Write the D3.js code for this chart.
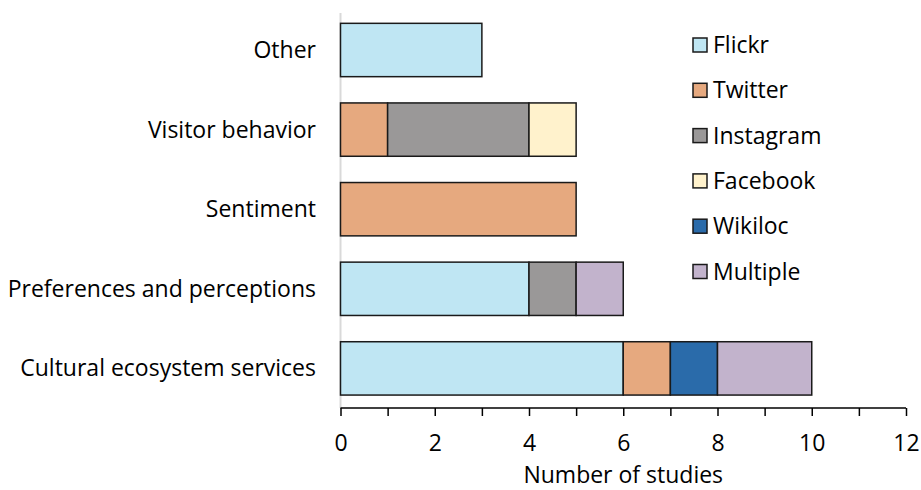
<!DOCTYPE html>
<html>
<head>
<meta charset="utf-8">
<script src="https://cdn.jsdelivr.net/npm/d3@7"></script>
<style>
body { margin: 0; background: #fff; }
text { font-family: "Open Sans", sans-serif; fill: #000; }
</style>
</head>
<body>
<div id="chart"></div>
<script>
// data
var categories = ["Other", "Visitor behavior", "Sentiment", "Preferences and perceptions", "Cultural ecosystem services"];
var sources = ["Flickr", "Twitter", "Instagram", "Facebook", "Wikiloc", "Multiple"];
var colors = ["#bfe6f3", "#e6a97f", "#9a9898", "#fff2cc", "#2a6baa", "#c2b3cc"];
var flickr    = [3, 0, 0, 4, 6];
var twitter   = [0, 1, 5, 0, 1];
var instagram = [0, 3, 0, 1, 0];
var facebook  = [0, 1, 0, 0, 0];
var wikiloc   = [0, 0, 0, 0, 1];
var multiple  = [0, 0, 0, 1, 2];
var xTicks = [0, 2, 4, 6, 8, 10, 12];

var width = 921, height = 490;
var fs = "23px";

var rows = categories.map(function(c, i) {
  return {cat: c, Flickr: flickr[i], Twitter: twitter[i], Instagram: instagram[i],
    Facebook: facebook[i], Wikiloc: wikiloc[i], Multiple: multiple[i]};
});

var svg = d3.select("#chart").append("svg")
  .attr("width", width)
  .attr("height", height);

var x = d3.scaleLinear().domain([0, 12]).range([340.5, 906]);
var y = d3.scaleBand().domain(categories).range([10.2, 408.2]).paddingInner(0.33).paddingOuter(0.165);
var color = d3.scaleOrdinal().domain(sources).range(colors);

// light category axis line
svg.append("line")
  .attr("x1", x(0)).attr("x2", x(0))
  .attr("y1", 13).attr("y2", 408)
  .attr("stroke", "#d9d9d9").attr("stroke-width", 2);

var stack = d3.stack().keys(sources)(rows);

svg.append("g").selectAll("g")
  .data(stack)
  .enter().append("g")
  .attr("fill", function(d) { return color(d.key); })
  .selectAll("rect")
  .data(function(d) { return d.filter(function(s) { return s[1] - s[0] > 0; }); })
  .enter().append("rect")
  .attr("x", function(d) { return x(d[0]); })
  .attr("width", function(d) { return x(d[1]) - x(d[0]); })
  .attr("y", function(d) { return y(d.data.cat); })
  .attr("height", y.bandwidth())
  .attr("stroke", "#1a1a1a")
  .attr("stroke-width", 1.5);

// x axis
var xAxis = d3.axisBottom(x)
  .ticks(12)
  .tickSize(8)
  .tickFormat(function(d) { return xTicks.indexOf(d) >= 0 ? d : ""; });

var gx = svg.append("g")
  .attr("transform", "translate(0,408)")
  .call(xAxis);
gx.select(".domain").attr("stroke", "#000").attr("stroke-width", 1.5)
  .attr("d", "M" + x(0) + ",0H" + x(12));
gx.selectAll(".tick line").attr("stroke", "#000").attr("stroke-width", 1.5);
gx.selectAll(".tick text")
  .attr("y", 43)
  .attr("dy", "0")
  .style("font-size", fs)
  .style("font-family", "'Open Sans', sans-serif")
  .attr("fill", "#000");

svg.append("text")
  .attr("x", x(6))
  .attr("y", 483)
  .attr("text-anchor", "middle")
  .style("font-size", fs)
  .text("Number of studies");

// category labels
svg.append("g").selectAll("text")
  .data(categories)
  .enter().append("text")
  .attr("x", 316)
  .attr("y", function(d) { return y(d) + y.bandwidth() / 2; })
  .attr("dy", "0.35em")
  .attr("text-anchor", "end")
  .style("font-size", fs)
  .text(function(d) { return d; });

// legend
var legend = svg.append("g").selectAll("g")
  .data(sources)
  .enter().append("g")
  .attr("transform", function(d, i) { return "translate(693," + (45 + i * 45.3) + ")"; });

legend.append("rect")
  .attr("x", 0).attr("y", -7)
  .attr("width", 14).attr("height", 14)
  .attr("fill", function(d) { return color(d); })
  .attr("stroke", "#1a1a1a").attr("stroke-width", 1.5);

legend.append("text")
  .attr("x", 20)
  .attr("dy", "0.35em")
  .style("font-size", fs)
  .text(function(d) { return d; });
</script>
</body>
</html>
